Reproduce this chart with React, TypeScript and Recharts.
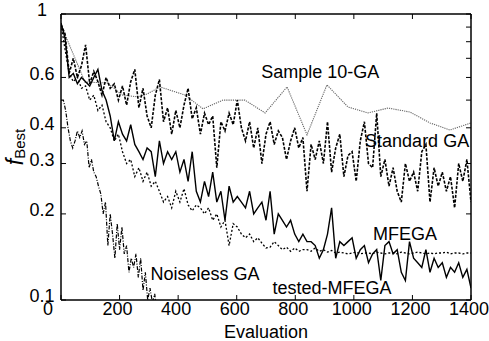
import React from 'react';
import { LineChart, Line, XAxis, YAxis, ReferenceDot } from 'recharts';

// Evaluation grid shared by the dense series
const evaluations = [
  0, 14, 28, 42, 56, 70, 84, 98, 112, 126,
  140, 154, 168, 182, 196, 210, 224, 238, 252, 266,
  280, 294, 308, 322, 336, 350, 364, 378, 392, 406,
  420, 434, 448, 462, 476, 490, 504, 518, 532, 546,
  560, 574, 588, 602, 616, 630, 644, 658, 672, 686,
  700, 714, 728, 742, 756, 770, 784, 798, 812, 826,
  840, 854, 868, 882, 896, 910, 924, 938, 952, 966,
  980, 994, 1008, 1022, 1036, 1050, 1064, 1078, 1092, 1106,
  1120, 1134, 1148, 1162, 1176, 1190, 1204, 1218, 1232, 1246,
  1260, 1274, 1288, 1302, 1316, 1330, 1344, 1358, 1372, 1386,
  1400,
];

const standardGA = [
  0.92, 0.85, 0.62, 0.70, 0.60, 0.66, 0.78, 0.57, 0.63, 0.58,
  0.52, 0.60, 0.55, 0.57, 0.50, 0.56, 0.48, 0.58, 0.64, 0.47,
  0.55, 0.44, 0.40, 0.52, 0.59, 0.42, 0.47, 0.38, 0.46, 0.40,
  0.48, 0.55, 0.43, 0.47, 0.38, 0.45, 0.41, 0.44, 0.29, 0.42,
  0.39, 0.45, 0.41, 0.50, 0.40, 0.36, 0.42, 0.34, 0.40, 0.30,
  0.38, 0.42, 0.35, 0.39, 0.37, 0.31, 0.36, 0.40, 0.34, 0.37,
  0.24, 0.35, 0.31, 0.36, 0.30, 0.42, 0.28, 0.34, 0.38, 0.27,
  0.32, 0.33, 0.26, 0.36, 0.42, 0.30, 0.29, 0.45, 0.27, 0.31,
  0.25, 0.29, 0.24, 0.22, 0.30, 0.26, 0.28, 0.24, 0.33, 0.35,
  0.22, 0.29, 0.25, 0.28, 0.24, 0.27, 0.21, 0.30, 0.26, 0.31,
  0.22,
];

const testedMFEGA = [
  0.93, 0.82, 0.60, 0.62, 0.57, 0.60, 0.58, 0.56, 0.60, 0.64,
  0.54, 0.50, 0.44, 0.36, 0.42, 0.38, 0.36, 0.41, 0.35, 0.33,
  0.31, 0.34, 0.33, 0.27, 0.36, 0.30, 0.33, 0.31, 0.33, 0.28,
  0.31, 0.26, 0.33, 0.24, 0.22, 0.26, 0.23, 0.28, 0.22, 0.24,
  0.19, 0.25, 0.22, 0.23, 0.22, 0.21, 0.24, 0.20, 0.21, 0.22,
  0.19, 0.24, 0.17, 0.20, 0.19, 0.18, 0.19, 0.17, 0.16, 0.17,
  0.16, 0.16, 0.155, 0.14, 0.15, 0.17, 0.21, 0.14, 0.16, 0.155,
  0.16, 0.165, 0.14, 0.15, 0.155, 0.135, 0.145, 0.15, 0.117, 0.155,
  0.16, 0.145, 0.15, 0.125, 0.117, 0.16, 0.14, 0.135, 0.13, 0.15,
  0.125, 0.14, 0.13, 0.135, 0.12, 0.13, 0.125, 0.135, 0.12, 0.128,
  0.11,
];

const mfega = [
  0.92, 0.75, 0.62, 0.58, 0.60, 0.55, 0.56, 0.50, 0.52, 0.46,
  0.48, 0.42, 0.40, 0.36, 0.38, 0.33, 0.30, 0.31, 0.27, 0.29,
  0.26, 0.28, 0.25, 0.26, 0.24, 0.22, 0.23, 0.21, 0.24, 0.22,
  0.245, 0.215, 0.205, 0.215, 0.21, 0.20, 0.21, 0.19, 0.20, 0.18,
  0.19, 0.155, 0.185, 0.18, 0.17, 0.165, 0.17, 0.16, 0.165, 0.158,
  0.152, 0.153, 0.16, 0.155, 0.15, 0.153, 0.148, 0.152, 0.148, 0.15,
  0.15, 0.148, 0.152, 0.148, 0.15, 0.147, 0.149, 0.146, 0.147, 0.146,
  0.145, 0.146, 0.147, 0.145, 0.146, 0.146, 0.145, 0.147, 0.146, 0.145,
  0.146, 0.146, 0.145, 0.147, 0.146, 0.145, 0.146, 0.147, 0.146, 0.145,
  0.146, 0.145, 0.146, 0.146, 0.147, 0.145, 0.146, 0.146, 0.145, 0.146,
  0.146,
];

const sampleEvals = [0, 82, 160, 208, 263, 294, 338, 423, 485, 553, 628, 697, 772, 840, 908, 980, 1048, 1117, 1192, 1260, 1328, 1400];
const sample10GA = [0.915, 0.578, 0.574, 0.521, 0.513, 0.525, 0.556, 0.521, 0.466, 0.5, 0.5, 0.451, 0.556, 0.378, 0.565, 0.473, 0.451, 0.469, 0.454, 0.416, 0.393, 0.416];

const noiselessEvals = [
  0, 8, 16, 24, 32, 40, 48, 56, 64, 72,
  80, 88, 96, 104, 112, 120, 128, 136, 144, 152,
  160, 168, 176, 184, 192, 200, 208, 216, 224, 232,
  240, 248, 256, 264, 272, 280, 288, 296, 304, 312,
  320, 328,
];
const noiselessGA = [
  0.50, 0.50, 0.46, 0.40, 0.36, 0.34, 0.36, 0.39, 0.37, 0.39,
  0.35, 0.36, 0.29, 0.31, 0.28, 0.27, 0.25, 0.235, 0.20, 0.22,
  0.155, 0.20, 0.17, 0.14, 0.185, 0.15, 0.18, 0.145, 0.155, 0.125,
  0.14, 0.13, 0.145, 0.12, 0.14, 0.108, 0.125, 0.10, 0.11, 0.098,
  0.105, 0.09,
];

const xTicks = [0, 200, 400, 600, 800, 1000, 1200, 1400];
const yTicks = [0.1, 0.2, 0.3, 0.4, 0.5, 0.6, 0.7, 0.8, 0.9, 1];
const yLabelled = [0.1, 0.2, 0.3, 0.4, 0.6, 1];

const annotations = [
  { text: 'Sample 10-GA', x: 885, y: 0.627 },
  { text: 'Standard GA', x: 1216, y: 0.36 },
  { text: 'MFEGA', x: 1175, y: 0.171 },
  { text: 'Noiseless GA', x: 492, y: 0.124 },
  { text: 'tested-MFEGA', x: 925, y: 0.11 },
];

const FONT = '"Liberation Sans", Arial, Helvetica, sans-serif';

const rows = (xs: number[], ys: number[]) => xs.map((x, i) => ({ x, y: ys[i] }));

const XTick = (props: any) => {
  const { x, y, payload } = props;
  const shift = payload.value === 0 ? -13 : -2;
  return (
    <text x={x + shift} y={y} dy="0.71em" textAnchor="middle" fontSize={18} fontFamily={FONT} fill="#000">
      {payload.value}
    </text>
  );
};

const YTick = (props: any) => {
  const { x, y, payload } = props;
  if (!yLabelled.includes(payload.value)) return <g />;
  return (
    <text x={x} y={y - 4} dy="0.35em" textAnchor="middle" fontSize={18} fontFamily={FONT} fill="#000">
      {String(payload.value)}
    </text>
  );
};

const YTitle = () => (
  <text transform="translate(23, 147) rotate(-90)" textAnchor="middle" fontFamily={FONT} fill="#000">
    <tspan fontStyle="italic" fontSize={23}>f</tspan>
    <tspan fontSize={15} dy={2}>Best</tspan>
  </text>
);

const Annot = (text: string) => (props: any) => (
  <text x={props.cx} y={props.cy} dy="0.35em" textAnchor="middle" fontSize={18} fontFamily={FONT} fill="#000">
    {text}
  </text>
);

export default function App() {
  return (
    <div style={{ position: 'fixed', left: 0, top: 0, background: '#fff' }}>
      <LineChart width={489} height={341} margin={{ top: 13, right: 17, bottom: 0, left: 16 }}>
        <XAxis
          type="number"
          dataKey="x"
          domain={[0, 1400]}
          ticks={xTicks}
          height={41}
          allowDataOverflow
          axisLine={{ stroke: '#000', strokeWidth: 1.5 }}
          tickLine={{ stroke: '#000', strokeWidth: 1 }}
          tickSize={-5}
          tickMargin={7}
          tick={<XTick />}
          label={{ value: 'Evaluation', position: 'insideBottom', offset: 3, fontSize: 18, fontFamily: FONT, fill: '#000' }}
        />
        <XAxis
          xAxisId="top"
          orientation="top"
          type="number"
          dataKey="x"
          domain={[0, 1400]}
          ticks={xTicks}
          height={1}
          allowDataOverflow
          axisLine={{ stroke: '#000', strokeWidth: 1.5 }}
          tickLine={{ stroke: '#000', strokeWidth: 1 }}
          tickSize={-5}
          tickFormatter={() => ''}
        />
        <YAxis
          scale="log"
          type="number"
          domain={[0.1, 1]}
          ticks={yTicks}
          width={45}
          allowDataOverflow
          axisLine={{ stroke: '#000', strokeWidth: 1.5 }}
          tickLine={{ stroke: '#000', strokeWidth: 1 }}
          tickSize={-5}
          tickMargin={24}
          tick={<YTick />}
          label={<YTitle />}
        />
        <YAxis
          yAxisId="right"
          orientation="right"
          scale="log"
          type="number"
          domain={[0.1, 1]}
          ticks={yTicks}
          width={1}
          allowDataOverflow
          axisLine={{ stroke: '#000', strokeWidth: 1.5 }}
          tickLine={{ stroke: '#000', strokeWidth: 1 }}
          tickSize={-5}
          tickFormatter={() => ''}
        />
        <Line data={rows(sampleEvals, sample10GA)} dataKey="y" stroke="#666" strokeWidth={1.1} strokeDasharray="1.2 1" dot={false} isAnimationActive={false} />
        <Line data={rows(evaluations, standardGA)} dataKey="y" stroke="#000" strokeWidth={1.6} strokeDasharray="3 1.5" dot={false} isAnimationActive={false} />
        <Line data={rows(evaluations, mfega)} dataKey="y" stroke="#000" strokeWidth={1.3} strokeDasharray="2 2" dot={false} isAnimationActive={false} />
        <Line data={rows(evaluations, testedMFEGA)} dataKey="y" stroke="#000" strokeWidth={1.4} dot={false} isAnimationActive={false} />
        <Line data={rows(noiselessEvals, noiselessGA)} dataKey="y" stroke="#000" strokeWidth={1.2} strokeDasharray="4 1.5 1 1.5" dot={false} isAnimationActive={false} />
        {annotations.map((a) => (
          <ReferenceDot key={a.text} x={a.x} y={a.y} r={0} ifOverflow="visible" shape={Annot(a.text)} />
        ))}
      </LineChart>
    </div>
  );
}
